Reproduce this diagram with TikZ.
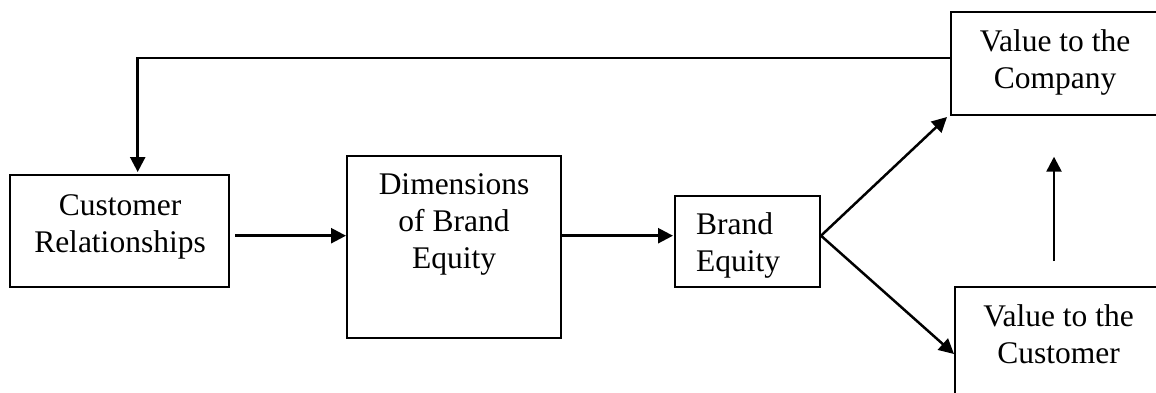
\documentclass[tikz,border=0pt]{standalone}
\usepackage{fontspec}
\setmainfont{Liberation Serif}
\usetikzlibrary{arrows.meta}
\begin{document}
\begin{tikzpicture}[x=1pt,y=-1pt,
  box/.style={draw,line width=2pt,inner sep=0pt},
  arr/.style={line width=2.5pt,-{Triangle[length=15pt,width=15pt]}},
  conn/.style={line width=2pt},
  txt/.style={font=\fontsize{31.5}{36.8}\selectfont,align=center,inner sep=0pt,anchor=base}]
\useasboundingbox (0,0) rectangle (1156,392);
\clip (0,0) rectangle (1156,392);
% boxes
\node[box,minimum width=219pt,minimum height=112pt] (cr) at (119.5,231) {};
\node[box,minimum width=214pt,minimum height=182.3pt] (dim) at (454,246.85) {};
\node[box,minimum width=145pt,minimum height=91.6pt] (be) at (747.5,241.5) {};
\node[box,minimum width=219.3pt,minimum height=103pt] (co) at (1060.35,63.8) {};
\node[box,minimum width=215pt,minimum height=113.3pt] (cu) at (1062.5,343.35) {};
% texts (anchor base = baseline of the last line)
\node[txt] (crt) at (120,252) {Customer\\Relationships};
\node[txt] (dimt) at (454,268) {Dimensions\\of Brand\\Equity};
\node[txt,align=left,anchor=base west] (bet) at (696,271) {Brand\\Equity};
\node[txt] (cot) at (1055,88.3) {Value to the\\Company};
\node[txt] (cut) at (1058.5,363.3) {Value to the\\Customer};
% helper coordinates
\coordinate (m) at (0,235.7);
\coordinate (fb) at (137.7,58.3);
\coordinate (up1) at (1054,261);
\coordinate (up2) at (1054,156.7);
\coordinate (cuin) at (0,354);
% connectors
\draw[arr] ([xshift=5pt]cr.east |- m) -- (dim.west |- m);
\draw[arr] (dim.east |- m) -- ([xshift=-1pt]be.west |- m);
\draw[arr] (be.east |- m) -- ([shift={(-2.7,0.7)}]co.south west);
\draw[arr] (be.east |- m) -- (cu.west |- cuin);
\draw[arr] (up1) -- (up2);
\draw[conn] (co.west |- fb) -- (fb);
\draw[arr] ([yshift=1pt]fb) -- ([yshift=2pt]cr.north -| fb);
\end{tikzpicture}
\end{document}
